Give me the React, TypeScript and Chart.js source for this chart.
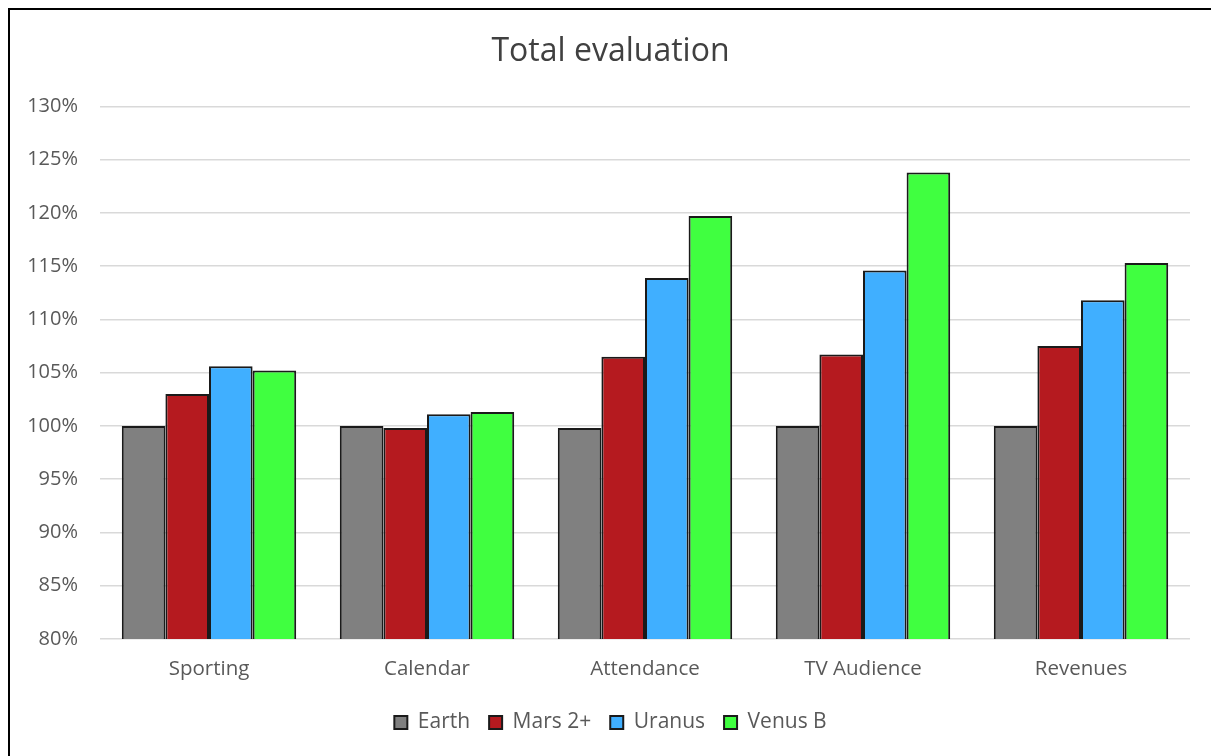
import React, { useEffect, useRef } from "react";
import { Chart, registerables } from "chart.js";

Chart.register(...registerables);

const categories = ["Sporting", "Calendar", "Attendance", "TV Audience", "Revenues"];
const earth = [100, 100, 99.8, 100, 100];
const mars = [103.0, 99.8, 106.5, 106.7, 107.5];
const uranus = [105.6, 101.1, 113.9, 114.6, 111.8];
const venus = [105.2, 101.3, 119.7, 123.8, 115.3];
const seriesNames = ["Earth", "Mars 2+", "Uranus", "Venus B"];
const seriesColors = ["#808080", "#B51A1F", "#40AFFF", "#40FF40"];
const yMin = 80;
const yMax = 130;
const yStep = 5;

const FONT = "'Open Sans', 'Noto Sans', sans-serif";

export default function App() {
  const ref = useRef<HTMLCanvasElement | null>(null);

  useEffect(() => {
    if (!ref.current) return;
    const values = [earth, mars, uranus, venus];
    const chart = new Chart(ref.current, {
      type: "bar",
      data: {
        labels: categories,
        datasets: values.map((v, i) => ({
          label: seriesNames[i],
          data: v,
          backgroundColor: seriesColors[i],
          borderColor: "#1a1a1a",
          borderWidth: 2,
          categoryPercentage: 0.8,
          barPercentage: 1.0,
        })),
      },
      options: {
        responsive: false,
        animation: false,
        layout: { padding: { left: 0, right: 0, top: 0, bottom: 13 } },
        plugins: {
          title: {
            display: true,
            text: "Total evaluation",
            color: "#404040",
            font: { family: FONT, size: 32, weight: "normal" },
            padding: { top: 23, bottom: 35 },
          },
          legend: {
            position: "bottom",
            labels: {
              boxWidth: 13,
              boxHeight: 13,
              color: "#595959",
              font: { family: FONT, size: 21 },
              padding: 19,
            },
          },
          tooltip: { enabled: false },
        },
        scales: {
          x: {
            grid: { display: false, drawTicks: false },
            border: { display: false },
            ticks: {
              color: "#595959",
              font: { family: FONT, size: 20.5 },
              padding: 18,
            },
            afterFit: (scale: any) => {
              scale.height = 54;
            },
          },
          y: {
            min: yMin,
            max: yMax,
            grid: { color: "#d9d9d9", lineWidth: 1.5, drawTicks: false },
            border: { display: false },
            ticks: {
              stepSize: yStep,
              color: "#595959",
              font: { family: FONT, size: 20 },
              padding: 22,
              callback: (v: any) => `${v}%`,
            },
            afterFit: (scale: any) => {
              scale.width = 90;
            },
          },
          yRight: {
            position: "right",
            min: yMin,
            max: yMax,
            grid: { display: false, drawTicks: false },
            border: { display: false },
            ticks: { display: false },
            afterFit: (scale: any) => {
              scale.width = 21;
            },
          },
        },
      },
    });
    return () => chart.destroy();
  }, []);

  return (
    <div
      style={{
        position: "fixed",
        left: 8,
        top: 8,
        width: 1260,
        height: 800,
        borderLeft: "2px solid #000",
        borderTop: "2px solid #000",
        boxSizing: "border-box",
        background: "#fff",
      }}
    >
      <canvas ref={ref} width={1201} height={746} style={{ display: "block", width: 1201, height: 746 }} />
    </div>
  );
}
